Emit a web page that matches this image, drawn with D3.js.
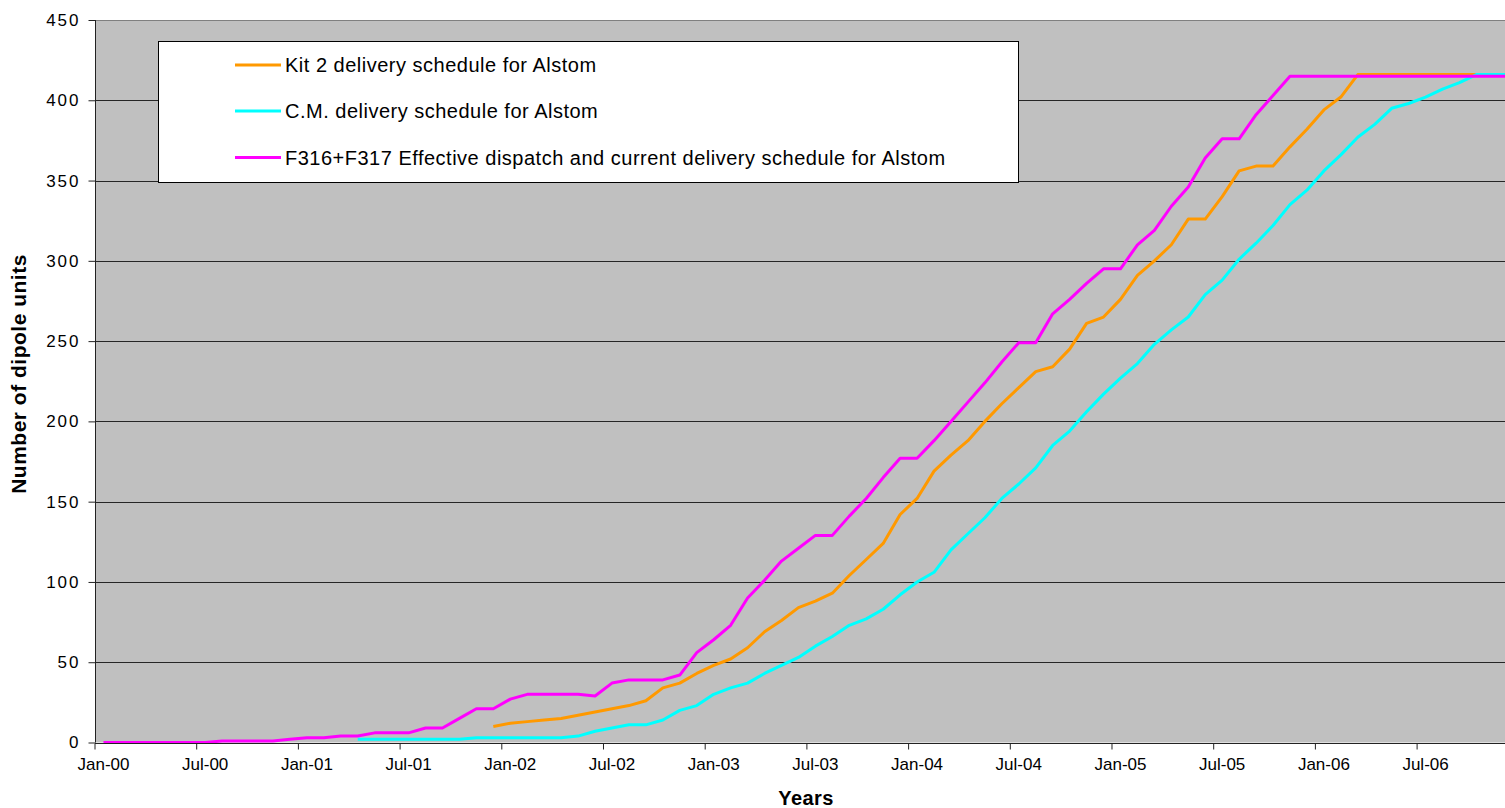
<!DOCTYPE html>
<html>
<head>
<meta charset="utf-8">
<script src="https://cdn.jsdelivr.net/npm/d3@7/dist/d3.min.js"></script>
<style>
  html, body { margin: 0; padding: 0; background: #fff; }
  svg { display: block; font-family: "Liberation Sans", Arial, sans-serif; }
</style>
</head>
<body>
<svg id="chart" width="1505" height="808"></svg>
<script>
// Monthly axis: Jan-00 .. Dec-06
const monthNames = ["Jan","Feb","Mar","Apr","May","Jun","Jul","Aug","Sep","Oct","Nov","Dec"];
const months = d3.range(84).map(i => monthNames[i % 12] + "-" + String(i / 12 | 0).padStart(2, "0"));
const xTickLabels = ["Jan-00","Jul-00","Jan-01","Jul-01","Jan-02","Jul-02","Jan-03","Jul-03","Jan-04","Jul-04","Jan-05","Jul-05","Jan-06","Jul-06"];
const yTicks = [0, 50, 100, 150, 200, 250, 300, 350, 400, 450];

// Kit 2 delivery schedule (from Dec-01)
const kit2Start = "Dec-01";
const kit2Values = [10, 12, 13, 14, 15, 17, 19, 21, 23, 26, 34, 37, 43, 48, 52, 59, 69, 76, 84, 88,
  93, 104, 114, 124, 142, 152, 169, 179, 188, 200, 211, 221, 231, 234, 245, 261, 265, 276, 291, 300,
  310, 326, 326, 340, 356, 359, 359, 371, 382, 394, 402, 416, 416, 416, 416, 416, 416, 416, 416, 416, 416];

// C.M. delivery schedule (from Apr-01)
const cmStart = "Apr-01";
const cmValues = [2, 2, 2, 2, 2, 2, 2, 3, 3, 3, 3, 3, 3, 4, 7, 9, 11, 11, 14, 20,
  23, 30, 34, 37, 43, 48, 53, 60, 66, 73, 77, 83, 92, 100, 106, 120, 130, 140, 152, 161,
  171, 185, 194, 206, 217, 227, 236, 248, 257, 265, 279, 288, 301, 311, 322, 335, 344, 356, 366, 377,
  385, 395, 398, 402, 407, 411, 416, 416, 416];

// F316+F317 effective dispatch and current schedule (from Jan-00)
const dispatchStart = "Jan-00";
const dispatchValues = [0, 0, 0, 0, 0, 0, 0, 1, 1, 1, 1, 2, 3, 3, 4, 4, 6, 6, 6, 9,
  9, 15, 21, 21, 27, 30, 30, 30, 30, 29, 37, 39, 39, 39, 42, 56, 64, 73, 90, 101,
  113, 121, 129, 129, 141, 152, 165, 177, 177, 188, 200, 212, 224, 237, 249, 249, 267, 276, 286, 295,
  295, 310, 319, 334, 346, 364, 376, 376, 391, 403, 415, 415, 415, 415, 415, 415, 415, 415, 415, 415,
  415, 415, 415, 415];

const seriesNames = [
  "Kit 2 delivery schedule for Alstom",
  "C.M. delivery schedule for Alstom",
  "F316+F317 Effective dispatch and current delivery schedule for Alstom"
];
const seriesColors = ["#FF9900", "#00FFFF", "#FF00FF"];

function toPoints(start, values) {
  const i0 = months.indexOf(start);
  return values.map((v, i) => ({ month: months[i0 + i], value: v }));
}
const series = [
  toPoints(kit2Start, kit2Values),
  toPoints(cmStart, cmValues),
  toPoints(dispatchStart, dispatchValues)
];

// Layout
const plotLeft = 95, plotTop = 20, plotBottom = 742.5;
const monthWidth = 16.95;
const plotRight = plotLeft + months.length * monthWidth;

const svg = d3.select("#chart");
svg.append("rect").attr("width", 1505).attr("height", 808).attr("fill", "#fff");

const x = d3.scaleBand().domain(months).range([plotLeft, plotRight]).padding(0);
const y = d3.scaleLinear().domain([0, 450]).range([plotBottom, plotTop]);
const bw = x.bandwidth();
const cx = m => x(m) + bw / 2;

// Plot area
svg.append("rect")
  .attr("x", plotLeft).attr("y", plotTop)
  .attr("width", plotRight - plotLeft).attr("height", plotBottom - plotTop)
  .attr("fill", "#C0C0C0");

// Horizontal gridlines
svg.append("g")
  .selectAll("line")
  .data(yTicks.filter(d => d > 0))
  .join("line")
  .attr("x1", plotLeft).attr("x2", plotRight)
  .attr("y1", d => Math.round(y(d)) + 0.5).attr("y2", d => Math.round(y(d)) + 0.5)
  .attr("stroke", d => d === 450 ? "#808080" : "#262626")
  .attr("stroke-width", 1);

// Series lines
const line = d3.line().x(d => cx(d.month)).y(d => y(d.value));
svg.append("g")
  .selectAll("path")
  .data(series)
  .join("path")
  .attr("d", line)
  .attr("fill", "none")
  .attr("stroke", (d, i) => seriesColors[i])
  .attr("stroke-width", 3)
  .attr("stroke-linejoin", "round");

// Y axis
const yAxis = d3.axisLeft(y).tickValues(yTicks).tickSize(7).tickPadding(8).tickFormat(d3.format("d"));
const gy = svg.append("g").attr("transform", `translate(${plotLeft + 0.5},0)`).call(yAxis);
gy.select(".domain").attr("stroke", "#222").attr("d", `M0,${plotTop}V${plotBottom}`);
gy.selectAll(".tick line").attr("stroke", "#222");
gy.selectAll(".tick text").attr("font-size", 17).attr("fill", "#000")
  .attr("letter-spacing", "2px")
  .attr("font-family", "'Liberation Sans', Arial, sans-serif");

// X axis: ticks at the start of each half-year, labels centred on the month
const xAxis = d3.axisBottom(x).tickValues(xTickLabels).tickSize(6).tickPadding(8);
const gx = svg.append("g").attr("transform", `translate(0,${Math.round(plotBottom) + 0.5})`).call(xAxis);
gx.select(".domain").attr("stroke", "#222").attr("d", `M${plotLeft},0H${plotRight}`);
gx.selectAll(".tick line").attr("stroke", "#222").attr("x1", -bw / 2).attr("x2", -bw / 2);
gx.selectAll(".tick text").attr("font-size", 17).attr("fill", "#000")
  .attr("font-family", "'Liberation Sans', Arial, sans-serif");

// Axis titles
svg.append("text")
  .attr("x", 806).attr("y", 805)
  .attr("text-anchor", "middle")
  .attr("font-size", 20).attr("font-weight", "bold")
  .attr("letter-spacing", "0.4px")
  .text("Years");
svg.append("text")
  .attr("transform", "translate(26,374) rotate(-90)")
  .attr("text-anchor", "middle")
  .attr("font-size", 21).attr("font-weight", "bold")
  .attr("letter-spacing", "0.5px")
  .text("Number of dipole units");

// Legend
const legend = svg.append("g");
legend.append("rect")
  .attr("x", 158.5).attr("y", 41.5).attr("width", 860).attr("height", 141)
  .attr("fill", "#fff").attr("stroke", "#000").attr("stroke-width", 1);
const rowY = [65, 111, 157.5];
seriesNames.forEach((name, i) => {
  legend.append("line")
    .attr("x1", 235).attr("x2", 281).attr("y1", rowY[i]).attr("y2", rowY[i])
    .attr("stroke", seriesColors[i]).attr("stroke-width", 3);
  legend.append("text")
    .attr("x", 285).attr("y", rowY[i] + 7)
    .attr("font-size", 20).attr("fill", "#000")
    .attr("letter-spacing", "0.5px")
    .text(name);
});
</script>
</body>
</html>
